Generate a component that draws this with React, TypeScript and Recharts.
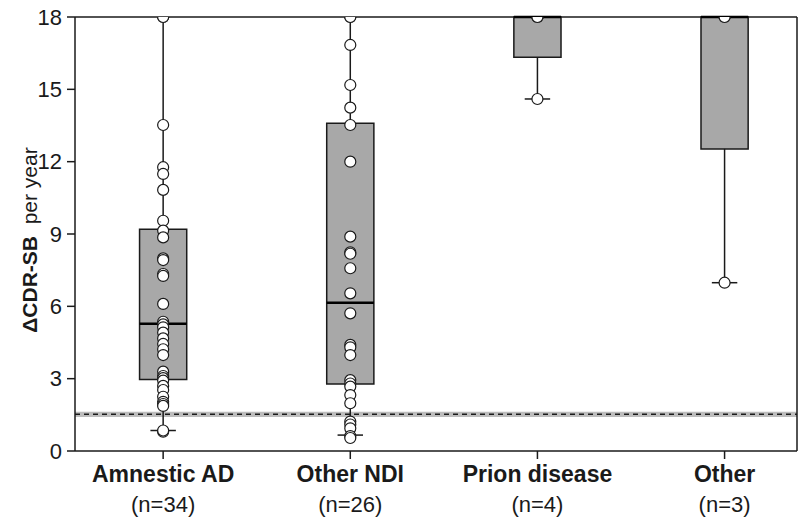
import React from 'react';
import {
  ComposedChart,
  Scatter,
  XAxis,
  YAxis,
  ReferenceArea,
  ReferenceLine,
} from 'recharts';

const categories = ['Amnestic AD', 'Other NDI', 'Prion disease', 'Other'];
const counts = ['(n=34)', '(n=26)', '(n=4)', '(n=3)'];

// box summary per group
const q1 = [2.97, 2.78, 16.33, 12.53];
const medians = [5.28, 6.15, 18, 18];
const q3 = [9.2, 13.59, 18, 18];
const whiskerLow = [0.85, 0.66, 14.6, 6.98];
const whiskerHigh = [18, 18, 18, 18];

// individual subjects
const amnesticAd = [
  18, 18, 13.52, 11.77, 11.49, 10.83, 9.55, 9.14, 8.86, 7.99, 7.92, 7.34, 7.26,
  6.1, 5.36, 5.25, 5.13, 4.91, 4.67, 4.44, 4.22, 3.98, 3.29, 3.11, 3.02, 2.92,
  2.7, 2.53, 2.25, 2.04, 1.95, 1.87, 0.8, 0.85,
];
const otherNdi = [
  18, 18, 16.84, 15.18, 14.24, 13.52, 12.0, 8.89, 8.24, 8.18, 7.58, 6.54, 5.71,
  4.4, 4.3, 3.98, 2.94, 2.8, 2.67, 2.32, 1.98, 1.22, 1.1, 0.94, 0.62, 0.54,
];
const prionDisease = [18, 18, 18, 14.6];
const otherGroup = [18, 18, 6.98];
const groups = [amnesticAd, otherNdi, prionDisease, otherGroup];

const yTicks = [0, 3, 6, 9, 12, 15, 18];
const xTicks = [0, 1, 2, 3];
const threshold = 1.52;
const thresholdBand = [1.41, 1.63];

const X_DOMAIN: [number, number] = [-0.471, 3.387];
const BOX_HALF = 0.126;
const CAP_HALF = 0.068;
const INK = '#1a1a1a';
const FONT = '"Liberation Sans", Arial, sans-serif';

const points = groups.flatMap((vals, i) => vals.map((v) => ({ x: i, y: v })));

function XTick({ x, y, payload }: any) {
  const i = payload.value as number;
  return (
    <g transform={`translate(${x},${y})`}>
      <text
        textAnchor="middle"
        y={21}
        fontFamily={FONT}
        fontSize={23}
        fontWeight="bold"
        fill={INK}
      >
        {categories[i]}
      </text>
      <text textAnchor="middle" y={51} fontFamily={FONT} fontSize={22} fill={INK}>
        {counts[i]}
      </text>
    </g>
  );
}

function YLabel() {
  return (
    <text
      transform="translate(37,240) rotate(-90)"
      textAnchor="middle"
      fontFamily={FONT}
      fontSize={21}
      fill={INK}
    >
      <tspan fontWeight="bold">ΔCDR-SB</tspan>
      <tspan>{'\u00a0\u00a0per year'}</tspan>
    </text>
  );
}

function Dot(props: any) {
  return <circle cx={props.cx} cy={props.cy} r={5.5} fill="#fff" stroke={INK} strokeWidth={1.2} />;
}

export default function App() {
  return (
    <div style={{ position: 'absolute', left: 0, top: 0, background: '#fff' }}>
      <ComposedChart
        width={800}
        height={518}
        data={points}
        margin={{ top: 17, right: 3, left: 0, bottom: 0 }}
      >
        <XAxis
          type="number"
          dataKey="x"
          domain={X_DOMAIN}
          ticks={xTicks}
          tick={<XTick />}
          tickSize={8}
          height={67}
          axisLine={{ stroke: INK, strokeWidth: 1.5 }}
          tickLine={{ stroke: INK, strokeWidth: 1.5 }}
          allowDataOverflow
        />
        <YAxis
          type="number"
          dataKey="y"
          domain={[0, 18]}
          ticks={yTicks}
          width={75}
          tickSize={8}
          tickMargin={5}
          axisLine={{ stroke: INK, strokeWidth: 1.5 }}
          tickLine={{ stroke: INK, strokeWidth: 1.5 }}
          tick={{ fontFamily: FONT, fontSize: 22, fill: INK }}
          label={<YLabel />}
          allowDataOverflow
        />
        <ReferenceArea
          y1={thresholdBand[0]}
          y2={thresholdBand[1]}
          x1={X_DOMAIN[0]}
          x2={X_DOMAIN[1]}
          fill="#bdbdbd"
          fillOpacity={1}
          stroke="none"
        />
        <ReferenceLine y={threshold} stroke={INK} strokeWidth={1.5} strokeDasharray="5 4" />
        <ReferenceLine y={18} stroke={INK} strokeWidth={1.5} />
        <ReferenceLine x={X_DOMAIN[1]} stroke={INK} strokeWidth={1.5} />
        {categories.map((_, i) => (
          <ReferenceLine
            key={`wl${i}`}
            segment={[
              { x: i, y: whiskerLow[i] },
              { x: i, y: q1[i] },
            ]}
            stroke={INK}
            strokeWidth={1.5}
            ifOverflow="visible"
          />
        ))}
        {categories.map((_, i) => (
          <ReferenceLine
            key={`wh${i}`}
            segment={[
              { x: i, y: q3[i] },
              { x: i, y: whiskerHigh[i] },
            ]}
            stroke={INK}
            strokeWidth={1.5}
            ifOverflow="visible"
          />
        ))}
        {categories.map((_, i) => (
          <ReferenceLine
            key={`cl${i}`}
            segment={[
              { x: i - CAP_HALF, y: whiskerLow[i] },
              { x: i + CAP_HALF, y: whiskerLow[i] },
            ]}
            stroke={INK}
            strokeWidth={1.5}
            ifOverflow="visible"
          />
        ))}
        {categories.map((_, i) => (
          <ReferenceArea
            key={`box${i}`}
            x1={i - BOX_HALF}
            x2={i + BOX_HALF}
            y1={q1[i]}
            y2={q3[i]}
            fill="#a8a8a8"
            fillOpacity={1}
            stroke={INK}
            strokeWidth={1.5}
            ifOverflow="visible"
          />
        ))}
        {categories.map((_, i) => (
          <ReferenceLine
            key={`med${i}`}
            segment={[
              { x: i - BOX_HALF, y: medians[i] },
              { x: i + BOX_HALF, y: medians[i] },
            ]}
            stroke="#000"
            strokeWidth={2.5}
            ifOverflow="visible"
          />
        ))}
        <Scatter data={points} dataKey="y" shape={<Dot />} isAnimationActive={false} />
      </ComposedChart>
    </div>
  );
}
